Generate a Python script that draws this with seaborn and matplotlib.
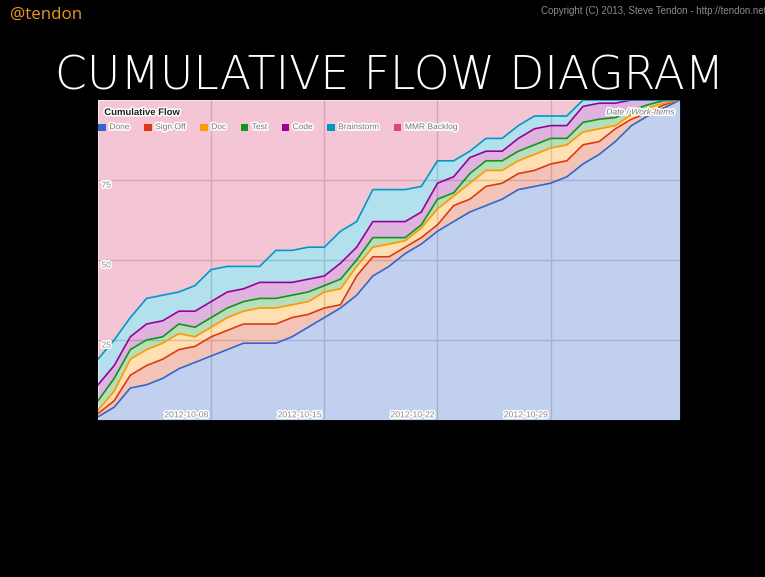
import numpy as np
import pandas as pd
import matplotlib
matplotlib.use("Agg")
import matplotlib.pyplot as plt
import matplotlib.patheffects as pe
import matplotlib.transforms as mtrans
from matplotlib.patches import Rectangle
import seaborn as sns

# ---------------- data (cumulative level of each state) -------------
dates = pd.date_range("2012-10-01", "2012-11-06", freq="D")

done = [1, 4, 10, 11, 13, 16, 18, 20, 22, 24, 24, 24, 26, 29, 32, 35, 39, 45, 48, 52,
        55, 59, 62, 65, 67, 69, 72, 73, 74, 76, 80, 83, 87, 92, 95, 97.5, 100]
sign_off = [2, 6, 14, 17, 19, 22, 23, 26, 28, 30, 30, 30, 32, 33, 35, 36, 45, 51, 51, 54,
            57, 61, 67, 69, 73, 74, 77, 78, 80, 81, 86, 87, 91, 94, 96, 98.5, 100]
doc = [3, 9, 19, 22, 24, 27, 26, 29, 32, 34, 35, 35, 36, 37, 40, 41, 48, 54, 55, 56,
       60, 66, 70, 74, 78, 78, 81, 83, 85, 86, 90, 91, 92, 95.5, 97.5, 99, 100]
test = [6, 13, 22, 25, 26, 30, 29, 32, 35, 37, 38, 38, 39, 40, 42, 44, 50, 57, 57, 57,
        61, 69, 71, 77, 81, 81, 84, 86, 88, 88, 93, 94, 94.5, 96.7, 98.5, 99.8, 100]
code = [11, 17, 26, 30, 31, 34, 34, 37, 40, 41, 43, 43, 43, 44, 45, 49, 54, 62, 62, 62,
        65, 74, 76, 82, 84, 84, 88, 91, 92, 92, 98, 99, 99, 100, 100, 100, 100]
brainstorm = [19, 25, 32, 38, 39, 40, 42, 47, 48, 48, 48, 53, 53, 54, 54, 59, 62, 72, 72, 72,
              73, 81, 81, 84, 88, 88, 92, 95, 95, 95, 100, 100, 100, 100, 100, 100, 100]
mmr_backlog = [100, 100, 100, 100, 100, 100, 100, 100, 100, 100, 100, 100, 100, 100, 100,
               100, 100, 100, 100, 100, 100, 100, 100, 100, 100, 100, 100, 100, 100, 100,
               100, 100, 100, 100, 100, 100, 100]

series_names = ["Done", "Sign Off", "Doc", "Test", "Code", "Brainstorm", "MMR Backlog"]
series_colors = ["#3366cc", "#dc3912", "#ff9900", "#109618", "#990099", "#0099c6", "#dd4477"]
y_ticks = [25, 50, 75]
x_tick_labels = ["2012-10-08", "2012-10-15", "2012-10-22", "2012-10-29"]

chart_title = "Cumulative Flow"
axis_note = "Date / Work-Items"
slide_title = "CUMULATIVE FLOW DIAGRAM"
handle = "@tendon"
copyright_text = "Copyright (C) 2013, Steve Tendon - http://tendon.net"

# ---------------- figure ----------------
W, H = 765, 577
fig = plt.figure(figsize=(W / 100, H / 100), dpi=100, facecolor="black")


def fx(px):
    return px / W


def fy(py):
    return 1 - py / H


SANS = ["Liberation Sans", "DejaVu Sans"]
halo = [pe.withStroke(linewidth=2.2, foreground="white")]

ax = fig.add_axes([fx(98), fy(420), (680 - 98) / W, (420 - 100) / H])
ax.set_facecolor("white")

levels = [done, sign_off, doc, test, code, brainstorm, mmr_backlog]
lower = np.zeros(len(dates))
for name, lev, col in zip(series_names, levels, series_colors):
    lev = np.asarray(lev, dtype=float)
    ax.fill_between(dates, lower, lev, color=col, alpha=0.3, linewidth=0, zorder=1)
    lower = lev

line_names = series_names[:-1]  # the backlog line sits on the chart's top edge
df = pd.DataFrame({
    "date": np.tile(dates, len(line_names)),
    "level": np.concatenate([np.asarray(l, dtype=float) for l in levels[:-1]]),
    "status": np.repeat(line_names, len(dates)),
})
sns.lineplot(data=df, x="date", y="level", hue="status", hue_order=line_names,
             palette=dict(zip(series_names, series_colors)), estimator=None,
             legend=False, ax=ax, linewidth=1.2, zorder=3)

ax.set_xlim(dates[0], dates[-1])
ax.set_ylim(0, 100)
ax.set_yticks(y_ticks)
ax.set_xticks(pd.to_datetime(x_tick_labels))
ax.grid(True, color="#d2d2d2", linewidth=1)
ax.set_axisbelow(True)
ax.tick_params(length=0, labelleft=False, labelbottom=False)
ax.set_xlabel("")
ax.set_ylabel("")
for s in ax.spines.values():
    s.set_visible(False)

# axis labels inside the chart
ytrans = mtrans.offset_copy(mtrans.blended_transform_factory(ax.transAxes, ax.transData),
                            fig=fig, x=3.5, y=-2.5, units="dots")
for v in y_ticks:
    ax.text(0, v, str(v), transform=ytrans, ha="left", va="top", fontsize=6.1,
            family=SANS, color="#8a8a8a", path_effects=halo, zorder=5)

xtrans = mtrans.offset_copy(mtrans.blended_transform_factory(ax.transData, ax.transAxes),
                            fig=fig, x=-2.5, y=2.7, units="dots")
for lab in x_tick_labels:
    ax.text(pd.Timestamp(lab), 0, lab, transform=xtrans, ha="right", va="baseline",
            fontsize=6.2, family=SANS, color="#8a8a8a", path_effects=halo, zorder=5)

# chart title, legend, note
fig.text(fx(104.3), fy(112), chart_title, ha="left", va="center", fontsize=6.85,
         fontweight="bold", family=SANS, color="#222222", path_effects=halo)
fig.text(fx(675), fy(113), axis_note, ha="right", va="center", fontsize=6.1,
         style="italic", family=SANS, color="#777777", path_effects=halo)

fig.canvas.draw()
renderer = fig.canvas.get_renderer()
x0 = 98.3
yc = 127.7
sq = 7.5
for name, col in zip(series_names, series_colors):
    fig.add_artist(Rectangle((fx(x0), fy(yc + sq / 2)), sq / W, sq / H,
                             transform=fig.transFigure, facecolor=col, edgecolor="none"))
    t = fig.text(fx(x0 + 11), fy(yc), name, ha="left", va="center", fontsize=6.1,
                 family=SANS, color="#777777", path_effects=halo)
    bb = t.get_window_extent(renderer)
    x0 = x0 + 11 + bb.width + 14.3


def fit_width(t, target):
    fig.canvas.draw()
    w = t.get_window_extent(fig.canvas.get_renderer()).width
    t.set_fontsize(t.get_fontsize() * target / w)


# slide header
t1 = fig.text(fx(10), fy(14.5), handle, ha="left", va="center", fontsize=11,
              family=["Open Sans", "DejaVu Sans"], color="#e8962c")
fit_width(t1, 72)
t2 = fig.text(fx(541), fy(11), copyright_text, ha="left", va="center", fontsize=6.5,
              family=SANS, color="#8c8c8c")
fit_width(t2, 225)
t3 = fig.text(fx(390), fy(89), slide_title, ha="center", va="baseline", fontsize=30,
              family=["DejaVu Sans"], fontweight=200, color="white")
fit_width(t3, 668)

fig.savefig("out.png", dpi=100, facecolor="black")
